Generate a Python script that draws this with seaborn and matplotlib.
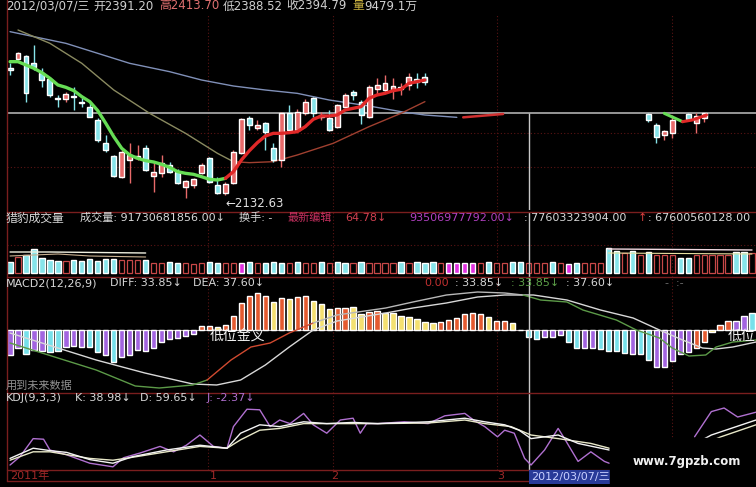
import seaborn as sns
import matplotlib.pyplot as plt
from matplotlib.lines import Line2D
from matplotlib.patches import Rectangle

# ---------------- data (x = bar index, shared by all panels) ----------------
# price panel, candles 0..52 then a few after the gap
candle_idx = list(range(53)) + [80, 81, 82, 83, 85, 86, 87]
opens = [2513, 2540, 2550, 2530, 2498, 2480, 2423, 2421, 2431, 2413, 2398, 2358, 2288, 2250,
         2188, 2238, 2243, 2273, 2190, 2198, 2223, 2203, 2158, 2163, 2198, 2243, 2163, 2138,
         2168, 2258, 2363, 2333, 2348, 2273, 2238, 2378, 2328, 2378, 2423, 2366, 2363, 2338,
         2396, 2443, 2413, 2368, 2450, 2448, 2448, 2450, 2463, 2480, 2488,
         2376, 2343, 2313, 2318, 2376, 2348, 2363]
highs = [2528, 2563, 2553, 2583, 2513, 2488, 2433, 2443, 2458, 2423, 2408, 2363, 2313, 2253,
         2268, 2288, 2283, 2283, 2233, 2253, 2233, 2210, 2178, 2183, 2228, 2248, 2188, 2173,
         2268, 2363, 2370, 2358, 2353, 2288, 2383, 2403, 2390, 2420, 2426, 2383, 2388, 2406,
         2438, 2448, 2418, 2463, 2483, 2493, 2483, 2468, 2498, 2498, 2498,
         2378, 2350, 2328, 2373, 2378, 2378, 2378]
lows = [2493, 2538, 2413, 2508, 2458, 2428, 2398, 2413, 2388, 2398, 2366, 2293, 2263, 2188,
        2183, 2168, 2238, 2206, 2143, 2188, 2198, 2166, 2123, 2153, 2196, 2170, 2136, 2132.63,
        2166, 2256, 2328, 2328, 2268, 2233, 2218, 2323, 2323, 2373, 2366, 2358, 2326, 2333,
        2393, 2418, 2346, 2363, 2436, 2438, 2420, 2433, 2448, 2453, 2463,
        2353, 2290, 2298, 2303, 2355, 2318, 2353]
closes = [2508, 2560, 2438, 2518, 2478, 2433, 2420, 2436, 2428, 2408, 2368, 2298, 2268, 2190,
          2263, 2253, 2250, 2208, 2203, 2228, 2203, 2168, 2176, 2180, 2223, 2173, 2140, 2166,
          2263, 2360, 2343, 2343, 2323, 2238, 2378, 2328, 2383, 2413, 2378, 2373, 2328, 2403,
          2433, 2433, 2373, 2458, 2463, 2468, 2460, 2456, 2488, 2473, 2473,
          2358, 2308, 2326, 2358, 2360, 2370, 2378]

ma5 = [2533, 2533, 2523, 2513, 2500, 2483, 2463, 2456, 2446, 2428, 2413, 2386, 2348, 2308,
       2273, 2253, 2243, 2236, 2232, 2225, 2216, 2203, 2198, 2195, 2188, 2180, 2178, 2183,
       2203, 2238, 2266, 2290, 2310, 2318, 2318, 2320, 2323, 2338, 2360, 2370, 2370, 2373,
       2388, 2393, 2398, 2423, 2433, 2438, 2446, 2450, 2468, 2473, 2478]
ma_long_x = [0, 3, 7, 11, 15, 20, 24, 28, 32, 36, 40, 45, 49, 52, 56]
ma_long = [2623, 2608, 2588, 2558, 2528, 2503, 2478, 2460, 2448, 2438, 2418, 2400, 2383, 2373, 2366]
ma_mid_x = [1, 5, 9, 13, 17.5, 22, 26, 28, 30, 33, 36, 40.5, 45, 49, 52]
ma_mid = [2628, 2588, 2528, 2448, 2378, 2318, 2258, 2233, 2230, 2233, 2253, 2288, 2338, 2378, 2413]
tail_x = [56.8, 61.8]
tail = [2366, 2376]
right_ma_x = [82, 84.3, 85.5, 87.3]
right_ma = [2378, 2353, 2358, 2373]
cursor_price = 2379
low_price = 2132.63

# volume panel
vol = [11, 16, 18, 24, 15, 13, 12, 12, 13, 12, 14, 12, 14, 14, 13, 13, 13, 13,
       10, 10, 11, 10, 10, 9, 10, 11, 10, 10, 10, 10, 11, 10, 10, 11, 10, 10, 11, 10, 10, 11,
       10, 11, 10, 10, 11, 10, 10, 10, 10, 11, 10, 11, 10, 11, 10, 10, 10, 10, 10, 10, 11, 10,
       10, 11, 11, 10, 10, 10, 11, 10, 9, 10, 10, 10, 10,
       25, 22, 20, 22, 18, 21, 18, 18, 18, 15, 15, 18, 18, 18, 18, 18, 21, 21, 20]
vol_kind = list("crcccccrccccccrrrc"
                "rrccrrrccrrmcrcccrcrrcrccrcr"
                "rrrcrcccrmmmmrcrrccrrrcrmcrrr"
                "ccrcrcrrrccrrrrrccr")
vol_ma_a_x, vol_ma_a = [0, 5, 17], [21, 21, 20]
vol_ma_b_x, vol_ma_b = [0, 6, 10, 17], [17, 19, 17, 16]
vol_ma_c_x, vol_ma_c = [75, 93], [24, 23]
vol_ma_d_x, vol_ma_d = [75, 93], [20, 19]

# MACD panel
macd = [-25, -18, -24, -20, -21, -22, -21, -17, -16, -17, -17, -22, -25, -32, -27, -25, -20,
        -21, -18, -12, -9, -8, -6, -4,
        4, 4, 3, 5, 14, 27, 34, 37, 34, 28, 32, 31, 33, 34, 29, 26, 21, 22, 22, 23, 16, 18,
        19, 17, 17, 14, 13, 11, 8, 7, 8, 10, 12, 16, 17, 16, 13, 9, 9, 7, 0,
        -7, -9, -7, -7, -5, -12, -18, -18, -18, -19, -21, -21, -23, -24, -24, -30, -37, -37,
        -31, -24, -22, -18, -12, -2, 5, 9, 9, 14, 17]
macd_kind = list("ppcppccpppccpcpppppppppp"
                 "rryrrrrrryryrryyyrryyrryyyyyyyrrrrrryrryr"
                 "ccpppccppccccpccppppprryrr")
diff_x = [0, 4.8, 10.8, 15.7, 18.7, 22.9, 24.7, 27.7, 30.2, 32.6, 35, 38, 41, 47.1, 50.5,
          54.7, 58.6, 62, 64.3, 66.5, 69.8, 71.8, 76, 78.5, 81.4, 83, 85.1, 87.2, 88.5, 90.6, 93.5]
diff = [-13, -25, -40, -56, -58, -55, -50, -30, -17, -13, -3, 7, 15, 22, 28, 35, 38, 37, 35,
        30, 28, 20, 10, 0, -8, -18, -26, -25, -17, -12, -10]
dea_x = [0, 4.8, 10.8, 16.9, 22.9, 25.9, 28.9, 32, 35, 38, 41, 47.1, 50.5, 54.7, 58.6, 62,
         64.3, 65.6, 69.8, 74, 78.1, 81.4, 84.3, 86.8, 88.5, 90.6, 93.5]
dea = [-3, -15, -30, -43, -54, -55, -50, -35, -17, 0, 9, 17, 22, 27, 33, 35, 35, 35, 30, 20,
       12, 0, -10, -18, -19, -17, -12]

# KDJ panel
k_x = [0, 2.9, 5, 7.1, 10, 12.9, 15.4, 19.6, 23.8, 27.2, 28.9, 31.3, 33.8, 36.8, 39.7, 43,
       46.1, 52.4, 57, 59.5, 62, 63.8, 65.3, 68.7, 71.2, 75.1]
k_val = [11, 28, 24, 21, 9, 3, 14, 25, 33, 28, 53, 67, 64, 72, 69, 71,
         69, 72, 78, 72, 67, 58, 44, 50, 36, 25]
d_x = [0, 2.9, 5, 10, 12.9, 15.4, 19.6, 23.8, 27.2, 28.9, 31.3, 33.8, 36.8, 39.7, 43,
       46.1, 52.4, 57, 59.5, 62.8, 65.3, 68.7, 72.8, 75.1]
d_val = [8, 22, 22, 11, 8, 13, 22, 31, 28, 42, 58, 61, 69, 69, 69,
         69, 70, 75, 69, 64, 50, 44, 36, 28]
j_x = [0, 1.25, 2.9, 4.2, 5, 7.1, 10, 12.9, 14.2, 16.3, 18.8, 20.5, 22.1, 23.8, 25.5, 27.2,
       28, 29.7, 31.3, 32.6, 33.8, 35.1, 36.8, 38, 39.7, 41.4, 43, 43.9, 44.7, 46.1, 49.4,
       52.4, 54.5, 57, 58.2, 59.5, 61.1, 62, 63.2, 64.5, 65.3, 67, 68.7, 69.5, 71.2, 72.8,
       74.5, 75.1]
j_val = [0, 14, 44, 43, 25, 17, 3, -3, 12, 20, 31, 22, 33, 50, 31, 28,
         64, 93, 92, 64, 75, 69, 86, 67, 53, 75, 78, 53, 69, 69, 72,
         69, 82, 86, 74, 64, 47, 58, 53, 11, 0, 25, 61, 44, 6, 22,
         6, 3]
j_right_x, j_right = [85.8, 87.9, 89.5, 91.2, 93.5], [47, 89, 95, 80, 88]
k_right_x, k_right = [86.5, 87.9, 93.5], [40, 50, 75]
d_right_x, d_right = [87.5, 89.1, 93.5], [38, 47, 67]

month_x = [24.8, 40.5, 61, 83]
cursor_x = 65

# ---------------- drawing ----------------
W, H = 756, 487
sns.set_theme(style="dark", rc={"axes.facecolor": "black", "figure.facecolor": "black"})
plt.rcParams['font.family'] = ['DejaVu Sans', 'Noto Sans CJK SC']

fig = plt.figure(figsize=(W / 100, H / 100), dpi=100)
grid_col = '#5a1414'
sep_col = '#7a1e1e'


def panel(top, bottom, ylim):
    ax = fig.add_axes([7 / W, 1 - bottom / H, (W - 7) / W, (bottom - top) / H])
    ax.set_facecolor('black')
    ax.set_xlim(-0.38, 93.5)
    ax.set_ylim(*ylim)
    ax.set_xticks([])
    ax.set_yticks([])
    ax.grid(False)
    for s in ax.spines.values():
        s.set_visible(False)
    for m in month_x:
        ax.axvline(m, color=grid_col, lw=0.8, ls=(0, (1, 2)), zorder=0)
    return ax


def fline(x0, y0, x1, y1, color=sep_col, lw=1.0):
    fig.add_artist(Line2D([x0 / W, x1 / W], [1 - y0 / H, 1 - y1 / H], color=color, lw=lw))


def ftext(x, y, s, color='#d8d8d8', size=8.5, **kw):
    fig.text(x / W, 1 - y / H, s, color=color, fontsize=size, va='center', ha='left', **kw)


# price panel
ax = panel(15, 210, (2088, 2673))
for p in (2318, 2218):
    ax.axhline(p, color=grid_col, lw=0.8, ls=(0, (1, 2)), zorder=0)
ax.axhline(cursor_price, color='#b0b0b0', lw=1.2, zorder=1)
ax.vlines(cursor_x, 2088, cursor_price, color='#c8c8c8', lw=1)
sns.lineplot(x=ma_long_x, y=ma_long, ax=ax, color='#8090b8', lw=1.0)
sns.lineplot(x=ma_mid_x[:8], y=ma_mid[:8], ax=ax, color='#8a8a60', lw=1.0)
sns.lineplot(x=ma_mid_x[7:], y=ma_mid[7:], ax=ax, color='#a04030', lw=1.0)
sns.lineplot(x=tail_x, y=tail, ax=ax, color='#d03030', lw=1.8)
for i, o, h, l, c in zip(candle_idx, opens, highs, lows, closes):
    col = '#e86a6a' if c >= o else '#86e4ea'
    ax.vlines(i, l, h, color=col, lw=1, zorder=3)
    ax.bar(i, max(abs(c - o), 2), bottom=min(o, c), width=0.62, color=col, zorder=3)
sns.lineplot(x=list(range(28)), y=ma5[:28], ax=ax, color='#66dd55', lw=2.4, zorder=4)
sns.lineplot(x=list(range(27, 53)), y=ma5[27:], ax=ax, color='#e02828', lw=2.4, zorder=4)
sns.lineplot(x=right_ma_x[:2], y=right_ma[:2], ax=ax, color='#66dd55', lw=2.2, zorder=4)
sns.lineplot(x=right_ma_x[1:], y=right_ma[1:], ax=ax, color='#e02828', lw=2.2, zorder=4)
ax.text(27, 2109, '\u21902132.63', color='#e0e0e0', fontsize=8.5, va='center', ha='left')

# volume panel
axv = panel(212, 277, (-4, 61))
axv.axhline(28, color=grid_col, lw=0.8, ls=(0, (1, 2)), zorder=0)
axv.axvline(cursor_x, color='#c8c8c8', lw=1)
for i, (v, kind) in enumerate(zip(vol, vol_kind)):
    if kind == 'r':
        axv.bar(i, v, width=0.66, fill=False, edgecolor='#c84848', lw=0.9)
    else:
        axv.bar(i, v, width=0.66, color='#86e4ea' if kind == 'c' else '#e030e0')
sns.lineplot(x=vol_ma_a_x, y=vol_ma_a, ax=axv, color='#f0f0e0', lw=1.0)
sns.lineplot(x=vol_ma_b_x, y=vol_ma_b, ax=axv, color='#c8b090', lw=0.8)
sns.lineplot(x=vol_ma_c_x, y=vol_ma_c, ax=axv, color='#f0d8e0', lw=1.0)
sns.lineplot(x=vol_ma_d_x, y=vol_ma_d, ax=axv, color='#e8e0a0', lw=0.8)

# MACD panel
axm = panel(277, 393, (-63, 53))
axm.axhline(0, color='#c8b8b8', lw=0.8, zorder=1)
axm.axvline(cursor_x, color='#c8c8c8', lw=1, zorder=5)
bar_cols = {'r': '#e45a30', 'y': '#f4e070', 'c': '#76e0ea', 'p': '#a264e0'}
axm.bar(range(len(macd)), macd, width=0.66, color=[bar_cols[k] for k in macd_kind], zorder=2)
sns.lineplot(x=dea_x, y=dea, ax=axm, color='#d8d8d8', lw=1.0, zorder=3)
sns.lineplot(x=diff_x[:7], y=diff[:7], ax=axm, color='#5c9a48', lw=1.0, zorder=3)
sns.lineplot(x=diff_x[6:12], y=diff[6:12], ax=axm, color='#d04a30', lw=1.0, zorder=3)
sns.lineplot(x=diff_x[11:19], y=diff[11:19], ax=axm, color='#b8b8b8', lw=1.0, zorder=3)
sns.lineplot(x=diff_x[18:], y=diff[18:], ax=axm, color='#5c9a48', lw=1.0, zorder=3)

# KDJ panel
axk = panel(393, 470, (-8.3, 120))
axk.axvline(cursor_x, color='#c8c8c8', lw=1)
sns.lineplot(x=j_x, y=j_val, ax=axk, color='#b070d0', lw=1.0)
sns.lineplot(x=d_x, y=d_val, ax=axk, color='#e8e8c8', lw=1.0)
sns.lineplot(x=k_x, y=k_val, ax=axk, color='#f4f4f4', lw=1.0)
sns.lineplot(x=j_right_x, y=j_right, ax=axk, color='#b070d0', lw=1.0)
sns.lineplot(x=d_right_x, y=d_right, ax=axk, color='#e8e8c8', lw=1.0)
sns.lineplot(x=k_right_x, y=k_right, ax=axk, color='#f4f4f4', lw=1.0)

# separators and borders
for y in (212, 277, 393, 470, 481):
    fline(7, y, W, y)
fline(7, 0, 7, 481)

# watermark box
fig.add_artist(Rectangle((610 / W, 0), (W - 610) / W, (487 - 438) / H,
                         transform=fig.transFigure, color='black', zorder=10))
fig.text(687 / W, 1 - 462 / H, 'www.7gpzb.com', color='#f0f0f0', fontsize=8.5,
         fontweight='bold', ha='center', va='center', zorder=11)

# header texts
ftext(6, 6, '2012/03/07/三', '#d0d0d0', 8.5)
ftext(93, 6, '开2391.20', '#d0d0d0', 8.5)
ftext(159, 6, '高2413.70', '#e07070', 8.5)
ftext(223, 6, '低2388.52', '#d0d0d0', 8.5)
ftext(286, 6, '收2394.79', '#d0d0d0', 8.5)
ftext(352, 6, '量', '#c8b040', 8.5)
ftext(364, 6, '9479.1万', '#d0d0d0', 8.5)

ftext(6, 218, '猎豹成交量', '#d8d8d8', 8.5)
ftext(80, 218, '成交量: 91730681856.00\u2193', '#d8d8d8', 8)
ftext(239, 218, '换手: -', '#d8d8d8', 8)
ftext(288, 218, '最新编辑', '#c83060', 8)
ftext(345, 218, '64.78\u2193', '#d04050', 8)
ftext(409, 218, '93506977792.00\u2193', '#b040c0', 8)
ftext(524, 218, ': 77603323904.00', '#d8d8d8', 8)
ftext(638, 218, '\u2191', '#e04040', 8)
ftext(648, 218, ': 67600560128.00', '#d8d8d8', 8)

ftext(6, 283, 'MACD2(12,26,9)', '#d8d8d8', 8)
ftext(110, 283, 'DIFF: 33.85\u2193', '#d8d8d8', 8)
ftext(193, 283, 'DEA: 37.60\u2193', '#d8d8d8', 8)
ftext(424, 283, '0.00', '#c03030', 8)
ftext(455, 283, ': 33.85\u2193', '#d8d8d8', 8)
ftext(511, 283, ': 33.85\u2193', '#5ca048', 8)
ftext(566, 283, ': 37.60\u2193', '#d8d8d8', 8)
ftext(665, 283, '-  :-', '#707070', 8)
ftext(210, 336, '低位金叉', '#f0f0f0', 10)
ftext(728, 336, '低位', '#f0f0f0', 10)
ftext(6, 386, '用到未来数据', '#909090', 8)

ftext(6, 398, 'KDJ(9,3,3)', '#d8d8d8', 8)
ftext(75, 398, 'K: 38.98\u2193', '#d8d8d8', 8)
ftext(140, 398, 'D: 59.65\u2193', '#d8d8d8', 8)
ftext(207, 398, 'J: -2.37\u2193', '#b070d0', 8)

# bottom date row
ftext(10, 476, '2011年', '#a02828', 8)
ftext(210, 476, '1', '#a02828', 8)
ftext(331, 476, '2', '#a02828', 8)
ftext(497, 476, '3', '#a02828', 8)
fig.text(531 / W, 1 - 477 / H, '2012/03/07/三', color='#c8d0ff', fontsize=8, va='center',
         ha='left', bbox=dict(boxstyle='square,pad=0.15', fc='#283a98', ec='none'))

fig.savefig('out.png', dpi=100, facecolor='black')
